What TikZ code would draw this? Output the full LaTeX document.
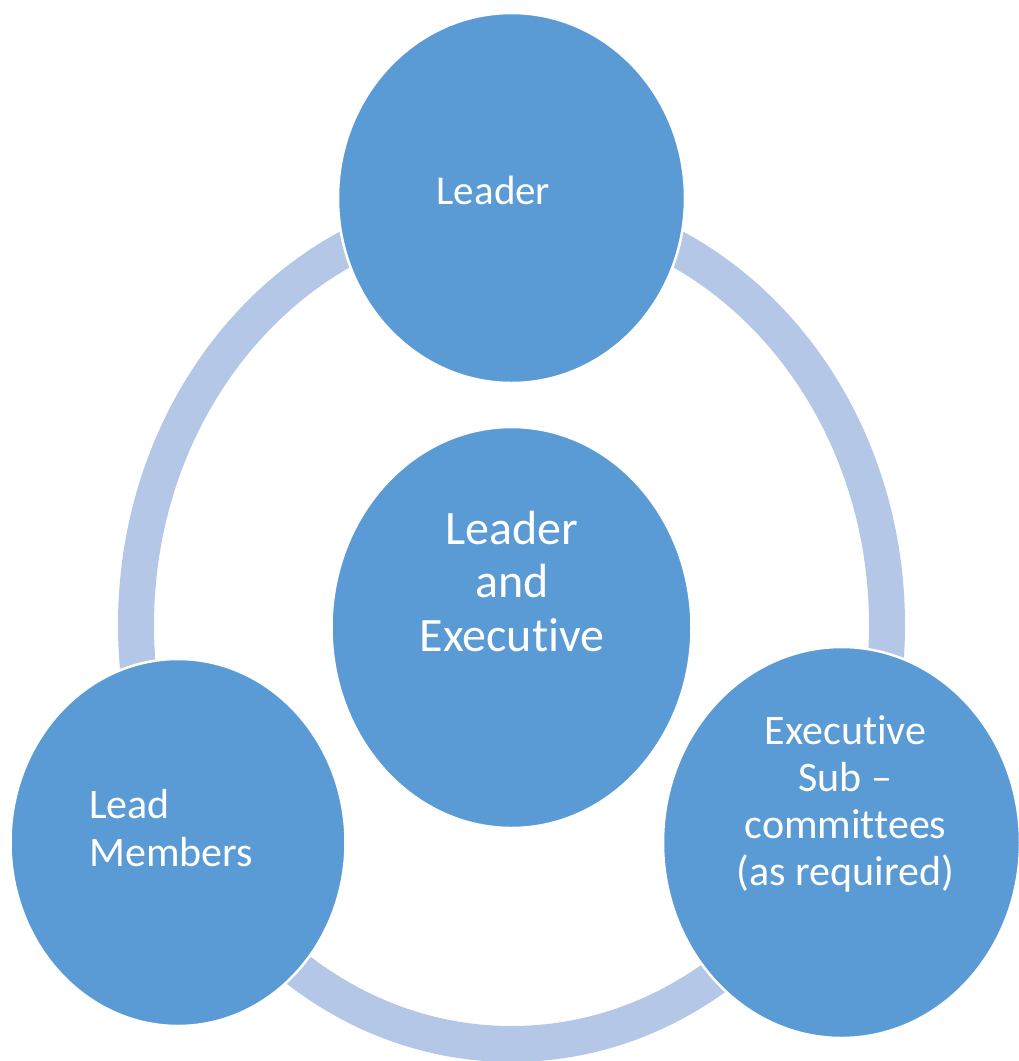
\documentclass[tikz,border=0pt]{standalone}
\usepackage{fontspec}
\setmainfont[Ligatures=CommonOff]{Carlito}
\usetikzlibrary{shapes.geometric}
\definecolor{circblue}{HTML}{5B9BD5}
\definecolor{ringblue}{HTML}{B4C7E7}
\tikzset{
  bubble/.style={ellipse, fill=circblue, draw=white, line width=2.5pt, inner sep=0pt},
  lbl/.style={text=white, inner sep=0pt, anchor=base},
}
\begin{document}
\begin{tikzpicture}[x=1pt,y=-1pt]
\useasboundingbox (0,0) rectangle (1019,1061);
% ring
\draw[ringblue, line width=36pt] (511.5,625) ellipse [x radius=375.5, y radius=419];
% circles
\node[bubble, minimum width=347pt, minimum height=370pt] (leader) at (511.5,198) {};
\node[bubble, minimum width=360pt, minimum height=401pt] (centre) at (511.5,627.5) {};
\node[bubble, minimum width=335pt, minimum height=367pt] (members) at (178,842.5) {};
\node[bubble, minimum width=357pt, minimum height=391pt] (subcom) at (841.5,842.5) {};
% texts
\node[lbl] (tleader) at (493.5,204) {\fontsize{41}{47}\selectfont Leader};
\node[lbl] (tcentre) at (512,544) {\fontsize{48}{53.5}\selectfont\begin{tabular}[t]{@{}c@{}}Leader\\and\\Executive\end{tabular}};
\node[lbl, anchor=base west] (tmembers) at (89,818) {\fontsize{42}{48}\selectfont\begin{tabular}[t]{@{}l@{}}Lead\\Members\end{tabular}};
\node[lbl] (tsubcom) at (845.5,744) {\fontsize{42}{47}\selectfont\begin{tabular}[t]{@{}c@{}}Executive\\Sub –\\committees\\(as required)\end{tabular}};
\end{tikzpicture}
\end{document}
